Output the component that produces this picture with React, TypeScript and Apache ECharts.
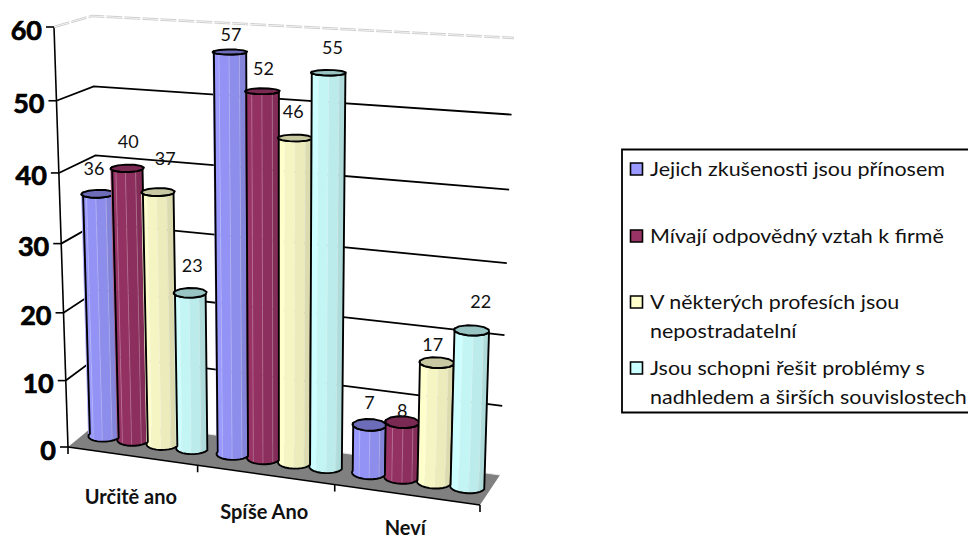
import React, { useEffect, useRef } from "react";
import * as echarts from "echarts";

const categories = ["Určitě ano", "Spíše Ano", "Neví"];
const valueTicks = [0, 10, 20, 30, 40, 50, 60];
const seriesNames = [
  "Jejich zkušenosti jsou přínosem",
  "Mívají odpovědný vztah k firmě",
  "V některých profesích jsou nepostradatelní",
  "Jsou schopni řešit problémy s nadhledem a širších souvislostech",
];
const zkusenosti = [36, 57, 7];
const vztah = [40, 52, 8];
const nepostradatelni = [37, 46, 17];
const nadhled = [23, 55, 22];
const seriesValues = [zkusenosti, vztah, nepostradatelni, nadhled];

const legendLines = [
  ["Jejich zkušenosti jsou přínosem"],
  ["Mívají odpovědný vztah k firmě"],
  ["V některých profesích jsou", "nepostradatelní"],
  ["Jsou schopni řešit problémy s", "nadhledem a širších souvislostech"],
];
const legendRows = [169, 236, 302, 368];

const bodyColors = ["#9999ff", "#993366", "#ffffcc", "#ccffff"];
const capColors = ["#6c6cb8", "#7a2952", "#c8c8a2", "#99c4c4"];
const facetShades = [1, 1, 0.96, 0.92, 0.86];

// Where each value label sits relative to the centre of its bar's cap.
const labelNudges = [
  [[-4, -26], [1, -18], [0, -23]],
  [[1, -27], [1, -23], [0, -12]],
  [[7, -34], [-2, -27], [-4, -19]],
  [[2, -28], [4, -26], [9, -29]],
];

// Drop of each category title below the floor's front edge.
const categoryDrops = [40, 36, 32];

const FONT = "Lato, Carlito, sans-serif";
const LEGEND_STRETCH = 1.13;

type Pt = [number, number];

// Projective map of the unit square on to a quad (p00, p10, p11, p01).
function quadMap(q: Pt[]) {
  const [[x0, y0], [x1, y1], [x2, y2], [x3, y3]] = q;
  const dx1 = x1 - x2, dx2 = x3 - x2, sx = x0 - x1 + x2 - x3;
  const dy1 = y1 - y2, dy2 = y3 - y2, sy = y0 - y1 + y2 - y3;
  const den = dx1 * dy2 - dx2 * dy1;
  const g = (sx * dy2 - dx2 * sy) / den;
  const h = (dx1 * sy - sx * dy1) / den;
  const a = x1 - x0 + g * x1, b = x3 - x0 + h * x3;
  const d = y1 - y0 + g * y1, e = y3 - y0 + h * y3;
  return (u: number, v: number): Pt => {
    const k = g * u + h * v + 1;
    return [(a * u + b * v + x0) / k, (d * u + e * v + y0) / k];
  };
}

const frontPlane = quadMap([[68, 447], [480, 505], [494, 49], [54, 27]]);
const backPlane = quadMap([[102, 419], [500, 475], [514, 38], [92, 16]]);

function project(u: number, v: number, w: number): Pt {
  const f = frontPlane(u, v);
  const b = backPlane(u, v);
  return [f[0] + (b[0] - f[0]) * w, f[1] + (b[1] - f[1]) * w];
}

// Reads the hidden cartesian scales and returns the unit-cube position of a datum.
function toUnit(params: any, api: any, cat: number, val: number) {
  const cs = params.coordSys;
  const p = api.coord([cat, val]);
  return { u: (p[0] - cs.x) / cs.width, v: (cs.y + cs.height - p[1]) / cs.height };
}

const BAR_STEP = 0.0767;
const R_U = 0.0385;
const R_W = 0.2;
const barCentre = (u: number, s: number) => u + (s - 1.5) * BAR_STEP;

function shade(hex: string, k: number) {
  const n = parseInt(hex.slice(1), 16);
  const c = [(n >> 16) & 255, (n >> 8) & 255, n & 255].map((x) => Math.round(x * k));
  return `rgb(${c[0]},${c[1]},${c[2]})`;
}

function ring(uc: number, v: number, from: number, to: number, n: number): Pt[] {
  const pts: Pt[] = [];
  for (let i = 0; i <= n; i++) {
    const t = from + ((to - from) * i) / n;
    pts.push(project(uc + R_U * Math.cos(t), v, 0.5 + R_W * Math.sin(t)));
  }
  return pts;
}

function renderBar(s: number) {
  return (params: any, api: any) => {
    const { u, v } = toUnit(params, api, api.value(0), api.value(1));
    const { v: v0 } = toUnit(params, api, api.value(0), 0);
    const uc = barCentre(u, s);
    const children: any[] = [];
    const n = facetShades.length;
    const stepsPerFacet = 3;
    for (let f = 0; f < n; f++) {
      const a0 = Math.PI + (Math.PI * f) / n;
      const a1 = Math.PI + (Math.PI * (f + 1)) / n;
      const top = ring(uc, v, a0, a1, stepsPerFacet);
      const bot = ring(uc, v0, a0, a1, stepsPerFacet).reverse();
      children.push({
        type: "polygon",
        silent: true,
        shape: { points: [...top, ...bot] },
        style: { fill: shade(bodyColors[s], facetShades[f]), stroke: shade(bodyColors[s], facetShades[f]), lineWidth: 0.5 },
      });
      if (f > 0) {
        children.push({
          type: "line",
          silent: true,
          shape: { x1: top[0][0], y1: top[0][1], x2: bot[bot.length - 1][0], y2: bot[bot.length - 1][1] },
          style: { stroke: "rgba(255,255,255,0.25)", lineWidth: 1 },
        });
      }
    }
    const outline = [...ring(uc, v, Math.PI, 2 * Math.PI, 12), ...ring(uc, v0, Math.PI, 2 * Math.PI, 12).reverse()];
    children.push({
      type: "polygon",
      silent: true,
      shape: { points: outline },
      style: { fill: "none", stroke: "#000", lineWidth: 1.9, lineJoin: "round" },
    });
    children.push({
      type: "polygon",
      silent: true,
      shape: { points: ring(uc, v, 0, 2 * Math.PI, 12).slice(0, -1) },
      style: { fill: capColors[s], stroke: "#000", lineWidth: 1.9, lineJoin: "round" },
    });
    return { type: "group", children };
  };
}

function renderLabel(params: any, api: any) {
  const cat = api.value(0), val = api.value(1), s = api.value(2);
  const { u, v } = toUnit(params, api, cat, val);
  const c = project(barCentre(u, s), v, 0.5);
  const [dx, dy] = labelNudges[s][cat];
  return {
    type: "text",
    silent: true,
    style: {
      text: String(val),
      x: c[0] + dx,
      y: c[1] + dy,
      align: "center",
      verticalAlign: "middle",
      fontFamily: FONT,
      fontSize: 18,
      fill: "#111",
    },
  };
}

function renderTick(params: any, api: any) {
  const val = api.value(1);
  const { v } = toUnit(params, api, 0, val);
  const a = project(0, v, 0);
  const b = project(0, v, 1);
  const c = project(1, v, 1);
  const children: any[] = [];
  const top = val === 60;
  if (top) {
    for (const off of [-0.8, 0.8]) {
      children.push({
        type: "polyline",
        silent: true,
        shape: { points: [[a[0], a[1] + off], [b[0], b[1] + off], [c[0], c[1] + off]] },
        style: { stroke: "#cacaca", lineWidth: 0.9, lineDash: [16, 2], fill: "none" },
      });
    }
  } else if (val > 0) {
    children.push({
      type: "polyline",
      silent: true,
      shape: { points: [a, b, c] },
      style: { stroke: "#000", lineWidth: 1.8, fill: "none" },
    });
  }
  children.push({
    type: "line",
    silent: true,
    shape: { x1: a[0] - 8, y1: a[1], x2: a[0], y2: a[1] },
    style: { stroke: "#000", lineWidth: 1.6 },
  });
  children.push({
    type: "text",
    silent: true,
    style: {
      text: String(val),
      x: a[0] - 12,
      y: a[1] + 2,
      align: "right",
      verticalAlign: "middle",
      fontFamily: FONT,
      fontWeight: "bold",
      fontSize: 27,
      fill: "#000",
      stroke: "#000",
      lineWidth: 0.7,
    },
  });
  return { type: "group", children };
}

function renderFloor(params: any, api: any) {
  const { v } = toUnit(params, api, 0, 0);
  const { v: vTop } = toUnit(params, api, 0, 60);
  const fl = project(0, v, 0), fr = project(1, v, 0), br = project(1, v, 1), bl = project(0, v, 1);
  const axisTop = project(0, vTop, 0);
  return {
    type: "group",
    children: [
      {
        type: "polygon",
        silent: true,
        shape: { points: [fl, fr, br, bl] },
        style: { fill: "#808080", stroke: "none" },
      },
      {
        type: "line",
        silent: true,
        shape: { x1: bl[0], y1: bl[1], x2: br[0], y2: br[1] },
        style: { stroke: "#e8e8e8", lineWidth: 1.2 },
      },
      {
        type: "line",
        silent: true,
        shape: { x1: fl[0], y1: fl[1], x2: fr[0], y2: fr[1] },
        style: { stroke: "#000", lineWidth: 1.6 },
      },
      {
        type: "line",
        silent: true,
        shape: { x1: axisTop[0], y1: axisTop[1], x2: fl[0], y2: fl[1] },
        style: { stroke: "#000", lineWidth: 1.6 },
      },
    ],
  };
}

function renderCategory(params: any, api: any) {
  const cat = api.value(0);
  const { u, v } = toUnit(params, api, cat, 0);
  const band = 1 / categories.length;
  const c = project(u, v, 0);
  const tick = project(u + band / 2, v, 0);
  const children: any[] = [
    {
      type: "line",
      silent: true,
      shape: { x1: tick[0], y1: tick[1], x2: tick[0], y2: tick[1] + 7 },
      style: { stroke: "#000", lineWidth: 1.6 },
    },
    {
      type: "text",
      silent: true,
      style: {
        text: categories[cat],
        x: c[0] - 1,
        y: c[1] + categoryDrops[cat],
        align: "center",
        verticalAlign: "middle",
        fontFamily: FONT,
        fontWeight: "bold",
        fontSize: 20,
        fill: "#111",
      },
    },
  ];
  if (cat === 0) {
    const start = project(u - band / 2, v, 0);
    children.push({
      type: "line",
      silent: true,
      shape: { x1: start[0], y1: start[1], x2: start[0], y2: start[1] + 7 },
      style: { stroke: "#000", lineWidth: 1.6 },
    });
  }
  return { type: "group", children };
}

function legendGraphics() {
  const elements: any[] = [
    {
      type: "rect",
      silent: true,
      shape: { x: 622, y: 149.5, width: 350, height: 263 },
      style: { fill: "#fff", stroke: "#000", lineWidth: 1.8 },
    },
  ];
  legendRows.forEach((row, i) => {
    elements.push({
      type: "rect",
      silent: true,
      shape: { x: 630.5, y: row - 6, width: 12, height: 12 },
      style: { fill: bodyColors[i], stroke: "#000", lineWidth: 1.6 },
    });
    legendLines[i].forEach((line, j) => {
      elements.push({
        type: "text",
        silent: true,
        x: 650,
        y: row + j * 29,
        scaleX: LEGEND_STRETCH,
        style: {
          text: line,
          x: 0,
          y: 0,
          verticalAlign: "middle",
          fontFamily: FONT,
          fontSize: 19,
          fill: "#111",
        },
      });
    });
  });
  return elements;
}

export default function App() {
  const ref = useRef<HTMLDivElement>(null);
  useEffect(() => {
    document.body.style.margin = "0";
    const chart = echarts.init(ref.current!, undefined, { renderer: "svg" });
    const barSeries = seriesValues.map((vals, s) => ({
      type: "custom",
      name: seriesNames[s],
      z: 5 + s,
      clip: false,
      renderItem: renderBar(s),
      encode: { x: 0, y: 1 },
      data: vals.map((val, i) => [i, val]),
    }));
    chart.setOption({
      animation: false,
      backgroundColor: "#fff",
      grid: { left: 100, right: 100, top: 50, bottom: 50 },
      xAxis: { type: "category", data: categories, show: false },
      yAxis: { type: "value", min: 0, max: 60, interval: 10, show: false },
      graphic: legendGraphics(),
      series: [
        {
          type: "custom",
          z: 1,
          clip: false,
          renderItem: renderFloor,
          encode: { x: 0, y: 1 },
          data: [[0, 0]],
        },
        {
          type: "custom",
          z: 2,
          clip: false,
          renderItem: renderTick,
          encode: { x: 0, y: 1 },
          data: valueTicks.map((t) => [0, t]),
        },
        {
          type: "custom",
          z: 3,
          clip: false,
          renderItem: renderCategory,
          encode: { x: 0, y: 1 },
          data: categories.map((_, i) => [i, 0]),
        },
        ...barSeries,
        {
          type: "custom",
          z: 20,
          clip: false,
          renderItem: renderLabel,
          encode: { x: 0, y: 1 },
          data: seriesValues.flatMap((vals, s) => vals.map((val, i) => [i, val, s])),
        },
      ],
    });
    return () => chart.dispose();
  }, []);
  return <div ref={ref} style={{ position: "fixed", left: 0, top: 0, width: 968, height: 539 }} />;
}
